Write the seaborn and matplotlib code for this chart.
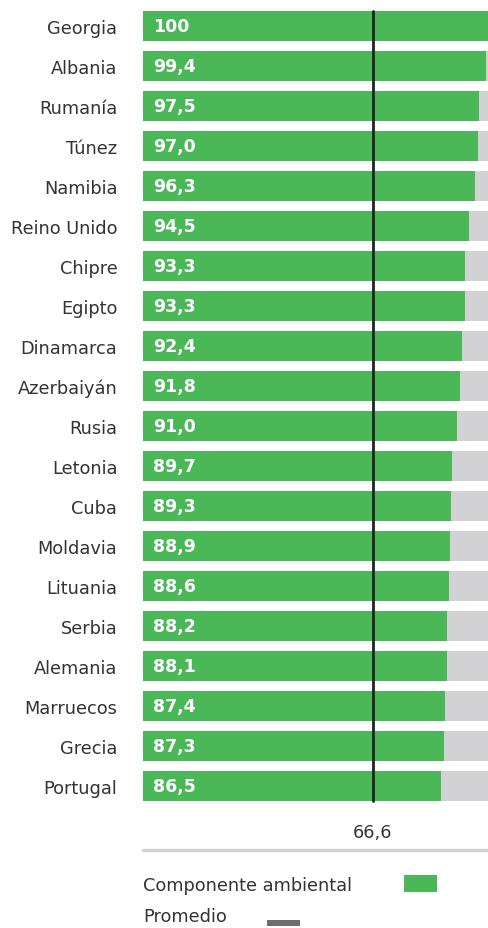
import matplotlib
matplotlib.use("Agg")
import matplotlib.pyplot as plt
from matplotlib.patches import Rectangle
from matplotlib.lines import Line2D
import seaborn as sns
import pandas as pd

countries = ["Georgia", "Albania", "Rumanía", "Túnez", "Namibia", "Reino Unido",
             "Chipre", "Egipto", "Dinamarca", "Azerbaiyán", "Rusia", "Letonia",
             "Cuba", "Moldavia", "Lituania", "Serbia", "Alemania", "Marruecos",
             "Grecia", "Portugal"]
ambiental = [100, 99.4, 97.5, 97.0, 96.3, 94.5, 93.3, 93.3, 92.4, 91.8, 91.0,
             89.7, 89.3, 88.9, 88.6, 88.2, 88.1, 87.4, 87.3, 86.5]
maximo = 100
promedio = 66.6

green = "#4ab857"
track = "#d2d2d4"
avg_grey = "#6d6d72"
text_col = "#333333"

df = pd.DataFrame({"pais": countries, "valor": ambiental, "max": [maximo] * len(countries)})

sns.set_theme(style="white")
plt.rcParams["font.family"] = ["DejaVu Sans"]

W, H = 488, 929
fs = 12.8
fig = plt.figure(figsize=(W / 100, H / 100), dpi=100)
ax = fig.add_axes([143 / W, 1 - 807 / H, (488 - 143) / W, 800 / H])

sns.barplot(data=df, x="max", y="pais", color=track, width=0.75, ax=ax,
            saturation=1, edgecolor="none")
sns.barplot(data=df, x="valor", y="pais", color=green, width=0.75, ax=ax,
            saturation=1, edgecolor="none")

ax.set_xlim(0, maximo)
ax.set_ylim(len(countries) - 0.5, -0.5)
ax.axvline(promedio, ymin=5 / 800, ymax=795 / 800, color="#222222", lw=2)

for i, v in enumerate(ambiental):
    lbl = "100" if v == 100 else f"{v:.1f}".replace(".", ",")
    ax.text(3, i, lbl, color="white", fontsize=12.5, fontweight="bold",
            va="center", ha="left")

ax.set_xlabel("")
ax.set_ylabel("")
ax.set_xticks([])
ax.tick_params(axis="y", length=0, pad=18.5, labelsize=fs, labelcolor=text_col)
for s in ax.spines.values():
    s.set_visible(False)

# average value label under the line
ax.text(promedio, 1 - 833 / H, f"{promedio:.1f}".replace(".", ","),
        transform=matplotlib.transforms.blended_transform_factory(ax.transData, fig.transFigure),
        ha="center", va="center", fontsize=fs, color=text_col)

# separator line
fig.add_artist(Line2D([143 / W, 1], [1 - 851 / H] * 2, color="#d2d2d4", lw=2.5))

# legend
fig.text(143 / W, 1 - 886 / H, "Componente ambiental", fontsize=fs,
         color=text_col, va="center", ha="left")
fig.add_artist(Rectangle((404 / W, 1 - 893 / H), 33 / W, 17 / H,
                         facecolor=green, edgecolor="none", transform=fig.transFigure))
fig.text(143 / W, 1 - 922 / H, "Promedio", fontsize=fs,
         color=text_col, va="baseline", ha="left")
fig.add_artist(Rectangle((267 / W, 1 - 927 / H), 33 / W, 6 / H,
                         facecolor=avg_grey, edgecolor="none", transform=fig.transFigure))

fig.savefig("out.png", dpi=100)
